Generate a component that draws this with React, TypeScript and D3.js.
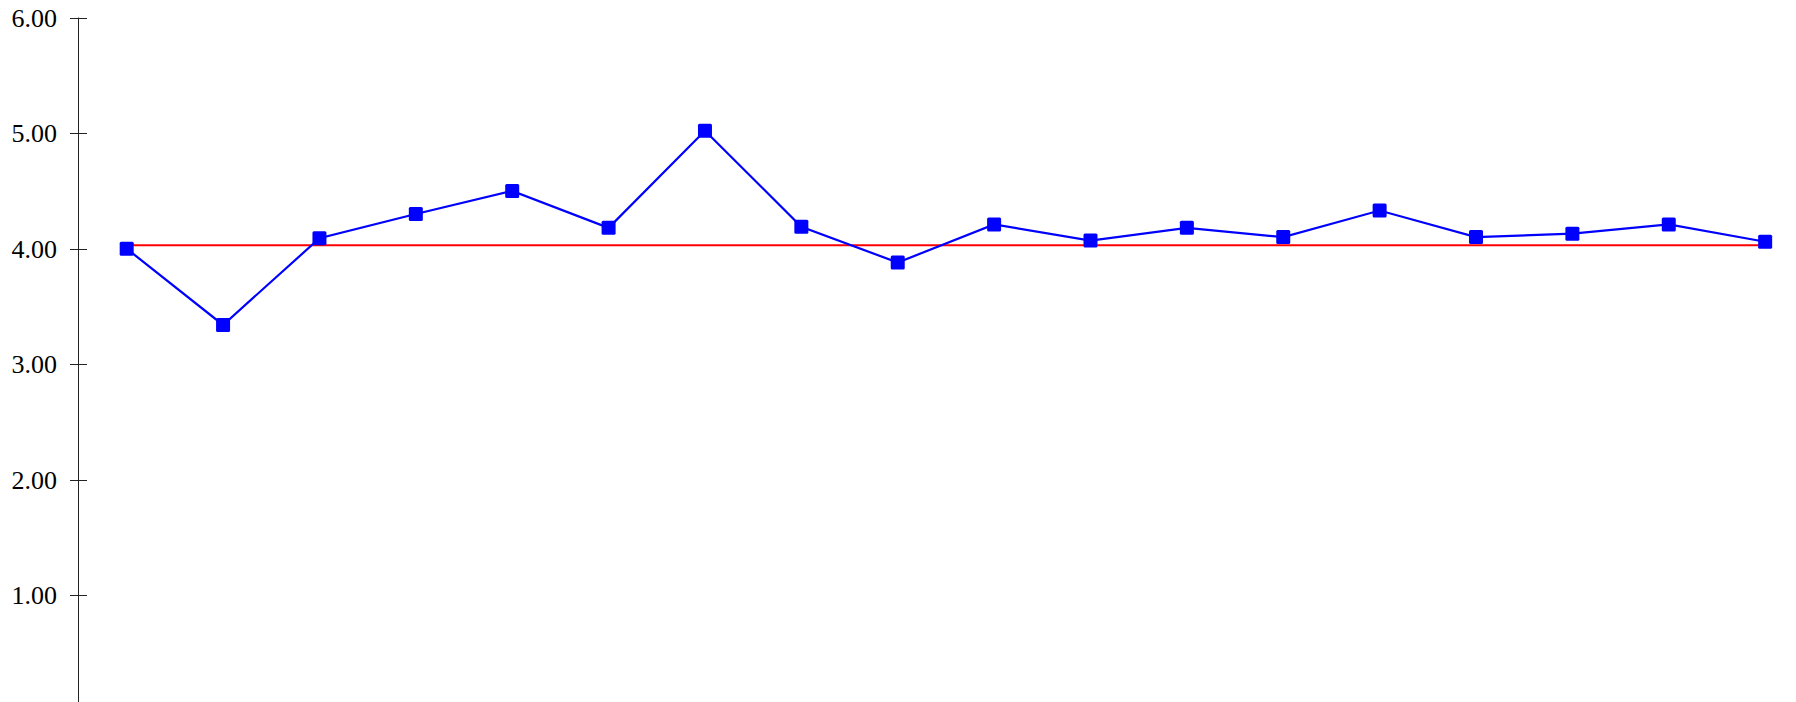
import React, { useEffect, useRef } from "react";
import * as d3 from "d3";

const categories = ["1","2","3","4","5","6","7","8","9","10","11","12","13","14","15","16","17","18"];
const values = [4.00, 3.34, 4.09, 4.30, 4.50, 4.18, 5.02, 4.19, 3.88, 4.21, 4.07, 4.18, 4.10, 4.33, 4.10, 4.13, 4.21, 4.06];
const referenceValue = [4.03];
const yTicks = [0, 1, 2, 3, 4, 5, 6];

export default function App() {
  const ref = useRef<SVGSVGElement | null>(null);

  useEffect(() => {
    const svg = d3.select(ref.current);
    svg.selectAll("*").remove();

    const axisX = 78.5;
    const step = 96.38;
    const x = d3.scaleBand<string>()
      .domain(categories)
      .range([axisX, axisX + step * categories.length])
      .padding(0);
    const cx = (c: string) => (x(c) as number) + x.bandwidth() / 2;

    const y = d3.scaleLinear().domain([0, 6]).range([711, 17.5]);

    const g = svg.append("g");

    // y axis
    g.append("line")
      .attr("x1", axisX).attr("x2", axisX)
      .attr("y1", y(6)).attr("y2", y(0))
      .attr("stroke", "#222").attr("stroke-width", 1);

    const tk = g.selectAll(".tick").data(yTicks).enter().append("g");
    tk.append("line")
      .attr("x1", axisX - 8.5).attr("x2", axisX + 8.5)
      .attr("y1", (d) => Math.round(y(d)) + 0.5).attr("y2", (d) => Math.round(y(d)) + 0.5)
      .attr("stroke", "#222").attr("stroke-width", 1);
    tk.append("text")
      .attr("x", 57)
      .attr("y", (d) => y(d) + 9)
      .attr("text-anchor", "end")
      .attr("font-family", "'Liberation Serif', 'Times New Roman', serif")
      .attr("font-size", 26)
      .attr("fill", "#000")
      .text((d) => d3.format(".2f")(d));

    // reference red line
    const first = cx(categories[0]);
    const last = cx(categories[categories.length - 1]);
    g.append("line")
      .attr("x1", first).attr("x2", last)
      .attr("y1", y(referenceValue[0])).attr("y2", y(referenceValue[0]))
      .attr("stroke", "#ff0000").attr("stroke-width", 2);

    // data line
    const line = d3.line<number>()
      .x((_, i) => cx(categories[i]))
      .y((d) => y(d));
    g.append("path")
      .datum(values)
      .attr("d", line)
      .attr("fill", "none")
      .attr("stroke", "#0000ff")
      .attr("stroke-width", 2.2);

    const s = 14;
    g.selectAll(".pt").data(values).enter().append("rect")
      .attr("x", (_, i) => cx(categories[i]) - s / 2)
      .attr("y", (d) => y(d) - s / 2)
      .attr("width", s).attr("height", s)
      .attr("rx", 1.5)
      .attr("fill", "#0000ff");
  }, []);

  return (
    <svg
      ref={ref}
      width={1796}
      height={740}
      style={{ position: "absolute", left: 0, top: 0, background: "#fff" }}
    />
  );
}
